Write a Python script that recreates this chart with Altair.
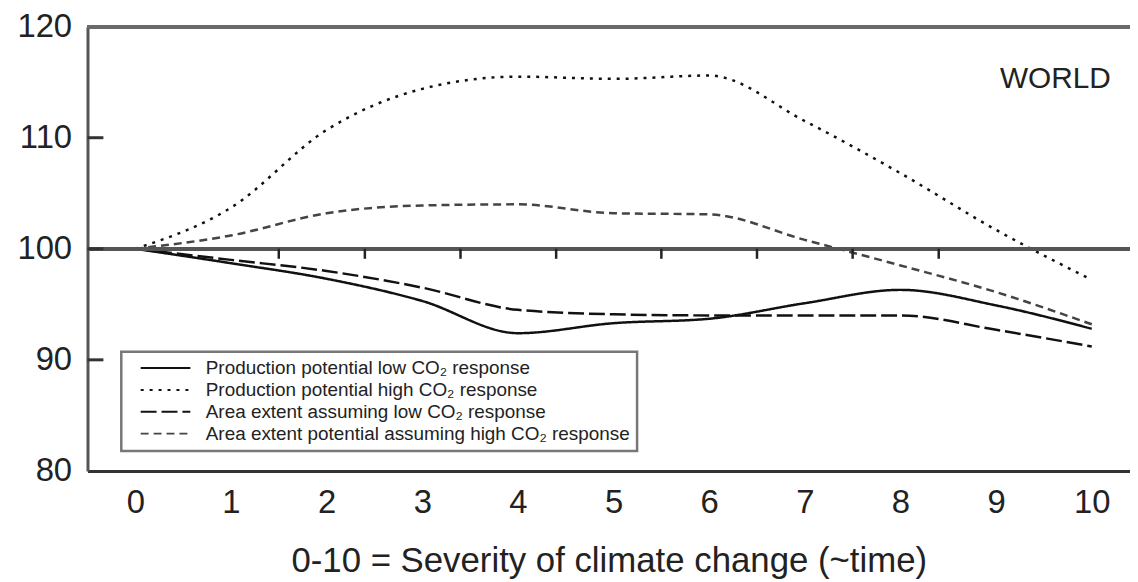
import altair as alt
import pandas as pd

# ---- data ----
x_vals = list(range(11))
prod_low = [100, 98.7, 97.3, 95.3, 92.4, 93.3, 93.7, 95.1, 96.3, 94.9, 92.8]
prod_high = [100, 103.7, 110.7, 114.4, 115.5, 115.3, 115.6, 111.5, 106.8, 101.7, 97.2]
area_low = [100, 99.0, 98.0, 96.5, 94.5, 94.1, 94.0, 94.0, 94.0, 92.7, 91.2]
area_high = [100, 101.2, 103.2, 103.9, 104.0, 103.2, 103.1, 100.8, 98.5, 96.1, 93.2]

series_names = [
    "Production potential low CO\u2082 response",
    "Production potential high CO\u2082 response",
    "Area extent assuming low CO\u2082 response",
    "Area extent potential assuming high CO\u2082 response",
]
x_tick_labels = list(range(11))
y_tick_labels = [80, 90, 100, 110, 120]
inner_y_ticks = [90, 100, 110]
ref_line_ticks = [1.5, 2.4, 3.4, 4.4, 5.5, 6.5, 7.5, 8.4]
region_label = "WORLD"
x_title = "0-10 = Severity of climate change (~time)"

FONT = "Liberation Sans"

rows = []
for name, vals in zip(series_names, [prod_low, prod_high, area_low, area_high]):
    for xv, yv in zip(x_vals, vals):
        rows.append({"x": xv, "y": yv, "series": name})
df = pd.DataFrame(rows)

xscale = alt.Scale(domain=[-0.5, 10.4], nice=False, zero=False)
yscale = alt.Scale(domain=[80, 120], nice=False, zero=False)

legend = alt.Legend(
    title=None, orient="none", legendX=34, legendY=327,
    symbolType="M-4,0H4", symbolSize=156, symbolStrokeWidth=2,
    symbolOffset=28,
    labelFontSize=19, labelFont=FONT, labelColor="#222", labelLimit=0,
    labelOffset=31, rowPadding=2, padding=7,
    strokeColor="#777", fillColor="white",
)

lines = alt.Chart(df).mark_line(strokeWidth=2.5, interpolate="monotone").encode(
    x=alt.X("x:Q", scale=xscale,
            axis=alt.Axis(values=x_tick_labels, format="d", ticks=False, grid=False,
                          labelFontSize=33, labelPadding=16, labelFont=FONT, labelColor="#222",
                          title=x_title, titleFont=FONT, titleFontSize=35,
                          titleFontWeight="normal", titleColor="#222", titlePadding=24,
                          domainColor="#333", domainWidth=3)),
    y=alt.Y("y:Q", scale=yscale,
            axis=alt.Axis(values=y_tick_labels, format="d", ticks=False, grid=False,
                          labelFontSize=33, labelPadding=16, labelFont=FONT, labelColor="#222",
                          title=None, domainColor="#555", domainWidth=3)),
    strokeDash=alt.StrokeDash("series:N", sort=series_names,
                              scale=alt.Scale(domain=series_names,
                                              range=[[1, 0], [3, 6], [16, 5], [8, 5]]),
                              legend=legend),
    color=alt.Color("series:N", sort=series_names,
                    scale=alt.Scale(domain=series_names,
                                    range=["#111111", "#111111", "#111111", "#444444"]),
                    legend=legend),
)

top_border = alt.Chart(df).mark_rule(color="#6a6a6a", strokeWidth=3).encode(y=alt.datum(120))
ref_line = alt.Chart(df).mark_rule(color="#555555", strokeWidth=3).encode(y=alt.datum(100))

ticks_df = pd.DataFrame({"x": ref_line_ticks, "y": [100] * len(ref_line_ticks),
                         "y2": [99.1] * len(ref_line_ticks)})
ref_ticks = alt.Chart(ticks_df).mark_rule(color="#222", strokeWidth=2.5).encode(
    x="x:Q", y="y:Q", y2="y2:Q")

inner_df = pd.DataFrame({"y": inner_y_ticks})
inner_ticks = alt.Chart(inner_df).mark_rule(color="#333", strokeWidth=3).encode(
    y="y:Q", x=alt.value(0), x2=alt.value(16))

annot_df = pd.DataFrame({"x": [10.2], "y": [115.3], "t": [region_label]})
annot = alt.Chart(annot_df).mark_text(align="right", baseline="middle", fontSize=30,
                                      font=FONT, color="#222").encode(
    x="x:Q", y="y:Q", text="t:N")

chart = alt.layer(lines, top_border, ref_line, ref_ticks, inner_ticks, annot).properties(
    width=1049, height=447,
    autosize=alt.AutoSizeParams(type="none"),
    padding={"left": 80, "top": 17, "right": 0, "bottom": 107},
).configure_view(stroke=None).configure_legend(strokeWidth=2.5)

chart.save("out.html", embed_options={"renderer": "svg", "actions": False})
